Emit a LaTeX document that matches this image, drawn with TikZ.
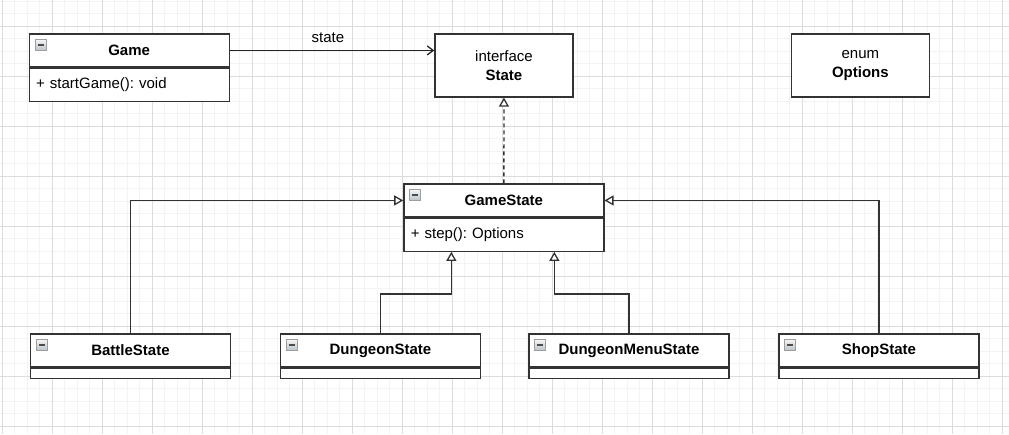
\documentclass[tikz,border=0pt]{standalone}
\usepackage{fontspec}
\setmainfont{Liberation Sans}
\usetikzlibrary{arrows.meta,calc}
\definecolor{gridminor}{HTML}{F3F3F3}
\definecolor{gridmajor}{HTML}{DCDCDC}
\definecolor{umlline}{HTML}{333333}
\definecolor{iconfill}{HTML}{B9C0C7}
\definecolor{icontop}{HTML}{F2F4F6}
\frenchspacing
\begin{document}
\begin{tikzpicture}[x=1pt,y=-1pt,
  classhead/.style={draw=umlline, line width=1.3pt, fill=white, minimum width=200pt,
    minimum height=33pt, anchor=north west, inner sep=0pt,
    font=\bfseries\fontsize{15}{18}\selectfont},
  classbody/.style={draw=umlline, line width=1.3pt, fill=white, anchor=north,
    text width=186pt, inner xsep=7pt, inner ysep=0pt, align=left,
    minimum height=#1, font=\fontsize{15}{18}\selectfont},
  plainbox/.style={draw=umlline, line width=1.3pt, fill=white, minimum width=138pt,
    minimum height=63pt, anchor=north west, inner sep=0pt, align=center,
    font=\fontsize{15}{18}\selectfont},
  minusicon/.style={draw=gray!75, line width=0.7pt, top color=icontop, bottom color=iconfill,
    minimum size=11pt, inner sep=0pt,
    path picture={\draw[line width=1.8pt, black!70] ([xshift=2.5pt]path picture bounding box.west) -- ([xshift=-2.5pt]path picture bounding box.east);}},
  inherit/.style={draw=umlline, line width=1.3pt, -{Triangle[open, length=9pt, width=10pt, fill=white]}},
  assoc/.style={draw=black!85, line width=1.3pt, -{Straight Barb[length=6pt, width=9pt]}},
  lbl/.style={font=\fontsize{15}{18}\selectfont, inner sep=0pt}
]
\useasboundingbox (0,0) rectangle (1009,434);
\fill[white] (0,0) rectangle (1009,434);
\begin{scope}
\clip (0,0) rectangle (1009,434);
\foreach \i in {-1,...,81} {\draw[gridminor, line width=1pt] ({2.3+12.5*\i},0) -- ({2.3+12.5*\i},434);}
\foreach \i in {-3,...,33} {\draw[gridminor, line width=1pt] (0,{26.3+12.5*\i}) -- (1009,{26.3+12.5*\i});}
\foreach \i in {0,...,20} {\draw[gridmajor, line width=1pt] ({2.3+50*\i},0) -- ({2.3+50*\i},434);}
\foreach \i in {-1,...,8} {\draw[gridmajor, line width=1pt] (0,{26.3+50*\i}) -- (1009,{26.3+50*\i});}
\end{scope}

% Game
\node[classhead] (game) at (28.5,33.3) {Game};
\node[classbody=33pt] (gamebody) at (game.south) {+ startGame(): void};
\node[minusicon] (gameicon) at ($(game.north west)+(12,12)$) {};

% State interface
\node[plainbox] (state) at (434.3,33.3) {interface\\[1pt]\textbf{State}};
% Options enum
\node[plainbox] (options) at (790.7,33.3) {enum\\[1pt]\textbf{Options}};

% GameState
\node[classhead] (gs) at (403.2,183.3) {GameState};
\node[classbody=33pt] (gsbody) at (gs.south) {+ step(): Options};
\node[minusicon] (gsicon) at ($(gs.north west)+(12,12)$) {};

% bottom classes
\node[classhead] (battle) at (29.8,333.3) {BattleState};
\node[classbody=10pt] (battlebody) at (battle.south) {};
\node[minusicon] (battleicon) at ($(battle.north west)+(12,12)$) {};

\node[classhead] (dungeon) at (279.8,333.3) {DungeonState};
\node[classbody=10pt] (dungeonbody) at (dungeon.south) {};
\node[minusicon] (dungeonicon) at ($(dungeon.north west)+(12,12)$) {};

\node[classhead] (dmenu) at (528.3,333.3) {DungeonMenuState};
\node[classbody=10pt] (dmenubody) at (dmenu.south) {};
\node[minusicon] (dmenuicon) at ($(dmenu.north west)+(12,12)$) {};

\node[classhead] (shop) at (778.3,333.3) {ShopState};
\node[classbody=10pt] (shopbody) at (shop.south) {};
\node[minusicon] (shopicon) at ($(shop.north west)+(12,12)$) {};

% connectors
\draw[assoc] (game.east) -- node[lbl, above=7pt, pos=0.48] (statelbl) {state} (game.east -| state.west);
\draw[inherit, dashed, dash pattern=on 4pt off 3pt] (gs.north) -- (state.south);
\draw[inherit] (battle.north) |- (gs.west);
\draw[inherit] (shop.north) |- (gs.east);
\coordinate (gsL) at ($(gsbody.south)+(-52.5,0)$);
\coordinate (gsR) at ($(gsbody.south)+(50.5,0)$);
\draw[inherit] (dungeon.north) |- ($(gsL)+(0,42)$) -- (gsL);
\draw[inherit] (dmenu.north) |- ($(gsR)+(0,42)$) -- (gsR);
\end{tikzpicture}
\end{document}
